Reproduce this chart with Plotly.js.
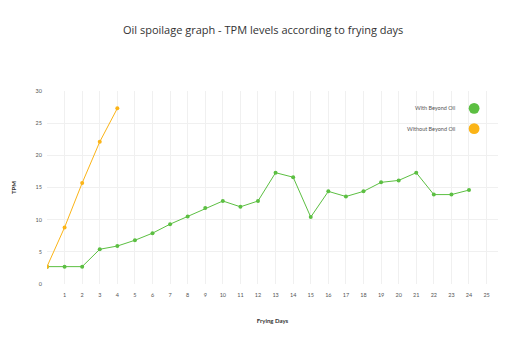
<!DOCTYPE html>
<html><head><meta charset="utf-8">
<script src="https://cdn.plot.ly/plotly-3.0.1.min.js"></script>
<style>body{margin:0;background:#fff}#c{width:516px;height:351px}</style>
</head><body><div id="c"></div>
<script>
const daysWith = [0,1,2,3,4,5,6,7,8,9,10,11,12,13,14,15,16,17,18,19,20,21,22,23,24];
const tpmWith = [2.7,2.7,2.7,5.4,5.9,6.8,7.9,9.3,10.5,11.8,12.9,12.0,12.9,17.3,16.6,10.4,14.4,13.6,14.4,15.8,16.1,17.3,13.9,13.9,14.6];
const daysWithout = [0,1,2,3,4];
const tpmWithout = [2.7,8.8,15.7,22.1,27.3];
const seriesNames = ["With Beyond Oil","Without Beyond Oil"];
const seriesColors = ["#5cbf42","#fbb417"];
const xTickVals = [0,1,2,3,4,5,6,7,8,9,10,11,12,13,14,15,16,17,18,19,20,21,22,23,24,25];
const xTickText = ["","1","2","3","4","5","6","7","8","9","10","11","12","13","14","15","16","17","18","19","20","21","22","23","24","25"];

const font = "Lato, 'Noto Sans', sans-serif";
const traces = [
  {x: daysWith, y: tpmWith, name: seriesNames[0], mode: "lines+markers", type: "scatter",
   line: {color: seriesColors[0], width: 1}, marker: {color: seriesColors[0], size: 4}},
  {x: daysWithout, y: tpmWithout, name: seriesNames[1], mode: "lines+markers", type: "scatter",
   line: {color: seriesColors[1], width: 1}, marker: {color: seriesColors[1], size: 4}}
];
const annotations = [], shapes = [];
seriesNames.forEach((n, i) => {
  const yp = 0.91 - i * 0.105;
  annotations.push({xref: "paper", yref: "paper", x: 0.91, y: yp, text: n, showarrow: false,
    xanchor: "right", yanchor: "middle", font: {family: font, size: 5.5, color: "#555"}});
  shapes.push({type: "circle", xref: "paper", yref: "paper", x0: 0.935, x1: 0.959,
    y0: yp - 0.028, y1: yp + 0.028, fillcolor: seriesColors[i], line: {width: 0}});
});
const layout = {
  width: 516, height: 351,
  margin: {l: 47, r: 18, t: 91, b: 67},
  paper_bgcolor: "#fff", plot_bgcolor: "#fff",
  showlegend: false,
  title: {text: "Oil spoilage graph - TPM levels according to frying days", x: 0.51, xanchor: "center",
    y: 0.915, yanchor: "middle", font: {family: "'Open Sans', sans-serif", size: 11, color: "#333"}},
  xaxis: {range: [0, 25.65], tickmode: "array", tickvals: xTickVals, ticktext: xTickText,
    showgrid: true, gridcolor: "#f0f0f0", gridwidth: 1, zeroline: false, showline: false,
    ticks: "", ticklabelstandoff: 6, tickfont: {family: font, size: 5.5, color: "#555"},
    title: {text: "<b>Frying Days</b>", font: {family: font, size: 6, color: "#333"}, standoff: 22}},
  yaxis: {range: [0, 30], dtick: 5, showgrid: true, gridcolor: "#f0f0f0", gridwidth: 1,
    zeroline: false, showline: false, ticks: "", ticklabelstandoff: 4,
    tickfont: {family: font, size: 5.5, color: "#555"},
    title: {text: "<b>TPM</b>", font: {family: font, size: 6, color: "#333"}, standoff: 18}},
  annotations: annotations, shapes: shapes
};
Plotly.newPlot("c", traces, layout, {displayModeBar: false, staticPlot: true});
</script></body></html>
